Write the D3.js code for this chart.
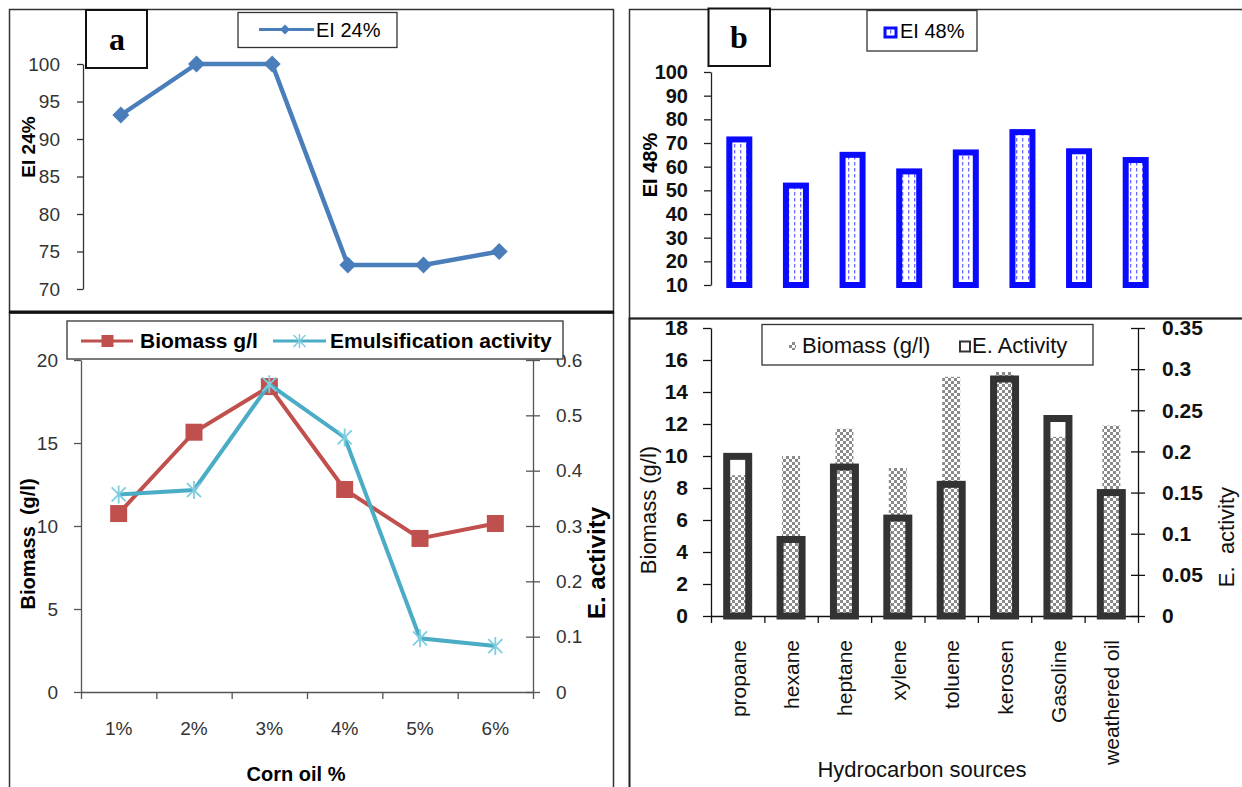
<!DOCTYPE html>
<html><head><meta charset="utf-8">
<script src="https://cdn.jsdelivr.net/npm/d3@7"></script>
<style>
html,body{margin:0;padding:0;background:#fff;}
svg{display:block;font-family:"Liberation Sans",Arial,sans-serif;}
</style></head><body>
<svg id="c" width="1242" height="787"></svg>
<script>
// ---------- data ----------
const cornCats = ["1%","2%","3%","4%","5%","6%"];
const ei24 = [93.2, 100, 100, 73.2, 73.2, 75];
const cornBiomass = [10.75, 15.65, 18.4, 12.2, 9.25, 10.15];
const cornActivity = [0.357, 0.365, 0.556, 0.46, 0.097, 0.083];

const hcCats = ["propane","hexane","heptane","xylene","toluene","kerosen","Gasoline","weathered oil"];
const ei48 = [71.5, 52, 65, 58, 66, 74.6, 66.5, 62.8];
const hcBiomass = [8.8, 10, 11.7, 9.25, 14.95, 15.25, 11.2, 11.9];
const hcActivity = [0.194, 0.093, 0.181, 0.119, 0.16, 0.288, 0.24, 0.15];

const ticksA = [70,75,80,85,90,95,100];
const ticksB = [10,20,30,40,50,60,70,80,90,100];
const ticksCL = [0,5,10,15,20];
const ticksCR = [0,0.1,0.2,0.3,0.4,0.5,0.6];
const ticksDL = [0,2,4,6,8,10,12,14,16,18];
const ticksDR = [0,0.05,0.1,0.15,0.2,0.25,0.3,0.35];

const svg = d3.select("#c");
const defs = svg.append("defs");
const chk = defs.append("pattern").attr("id","chk").attr("patternUnits","userSpaceOnUse").attr("width",6).attr("height",6);
chk.append("rect").attr("width",6).attr("height",6).attr("fill","#fff");
chk.append("rect").attr("width",3).attr("height",3).attr("fill","#8a8a8a");
chk.append("rect").attr("x",3).attr("y",3).attr("width",3).attr("height",3).attr("fill","#8a8a8a");
const dot = defs.append("pattern").attr("id","dot").attr("patternUnits","userSpaceOnUse").attr("width",6).attr("height",6);
dot.append("rect").attr("width",6).attr("height",6).attr("fill","#fff");
dot.append("rect").attr("x",2).attr("y",0).attr("width",1.3).attr("height",3.5).attr("fill","#6b6bff");

function styleAxis(g, color, size, weight, fill){
  g.selectAll("path,line").attr("stroke", color).attr("stroke-width",1.3);
  g.selectAll("text").attr("font-size", size).attr("font-weight", weight).attr("fill", fill)
   .attr("font-family","Liberation Sans, Arial, sans-serif");
}

// ---------- frames ----------
svg.append("rect").attr("x",9.5).attr("y",9.5).attr("width",604).attr("height",303).attr("fill","none").attr("stroke","#333").attr("stroke-width",1.5);
svg.append("rect").attr("x",9.5).attr("y",313).attr("width",604).attr("height",490).attr("fill","none").attr("stroke","#333").attr("stroke-width",1.5);
svg.append("line").attr("x1",9).attr("x2",614).attr("y1",312).attr("y2",312).attr("stroke","#111").attr("stroke-width",3);
svg.append("rect").attr("x",629.5).attr("y",9.5).attr("width",640).attr("height",309).attr("fill","none").attr("stroke","#333").attr("stroke-width",1.5);
svg.append("rect").attr("x",629.5).attr("y",318.5).attr("width",640).attr("height",490).attr("fill","none").attr("stroke","#222").attr("stroke-width",2);

// ---------- panel a ----------
const xA = d3.scaleBand().domain(cornCats).range([83,537]);
const yA = d3.scaleLinear().domain([70,100]).range([289,64]);
const gA = svg.append("g");
const axA = gA.append("g").attr("transform","translate(83,0)")
  .call(d3.axisLeft(yA).tickValues(ticksA).tickSize(6).tickSizeOuter(0).tickPadding(17));
styleAxis(axA,"#333",19,"normal","#333");
const cxA = c => xA(c) + xA.bandwidth()/2;
const ptsA = cornCats.map((c,i)=>({c, v:ei24[i]}));
gA.append("path").datum(ptsA).attr("fill","none").attr("stroke","#4a7ebb").attr("stroke-width",4.5)
  .attr("stroke-linejoin","round").attr("d", d3.line().x(d=>cxA(d.c)).y(d=>yA(d.v)));
const diamond = r => `M0,${-r}L${r},0L0,${r}L${-r},0Z`;
gA.selectAll(".dm").data(ptsA).join("path").attr("d",diamond(8.5)).attr("fill","#4a7ebb")
  .attr("transform",d=>`translate(${cxA(d.c)},${yA(d.v)})`);
gA.append("text").attr("transform","translate(35,147) rotate(-90)").attr("text-anchor","middle")
  .attr("font-size",19).attr("font-weight","bold").text("EI 24%");
// legend a
gA.append("rect").attr("x",238).attr("y",12.5).attr("width",159).attr("height",35).attr("fill","#fff").attr("stroke","#333").attr("stroke-width",1.3);
gA.append("line").attr("x1",259).attr("x2",314).attr("y1",29.5).attr("y2",29.5).attr("stroke","#4a7ebb").attr("stroke-width",3);
gA.append("path").attr("d",diamond(5)).attr("fill","#4a7ebb").attr("transform","translate(285,29.5)");
gA.append("text").attr("x",316).attr("y",36.5).attr("font-size",20).text("EI 24%");
// label a
gA.append("rect").attr("x",86).attr("y",10).attr("width",61).attr("height",58).attr("fill","#fff").attr("stroke","#111").attr("stroke-width",2);
gA.append("text").attr("x",117).attr("y",50).attr("text-anchor","middle").attr("font-family","Liberation Serif, Times New Roman, serif")
  .attr("font-weight","bold").attr("font-size",32).text("a");

// ---------- panel b ----------
const xB = d3.scaleBand().domain(hcCats).range([711,1164]);
const yB = d3.scaleLinear().domain([10,100]).range([285,72]);
const gB = svg.append("g");
const axB = gB.append("g").attr("transform","translate(711,0)")
  .call(d3.axisLeft(yB).tickValues(ticksB).tickSize(7).tickSizeOuter(0).tickPadding(16));
styleAxis(axB,"#222",20,"bold","#111");
gB.selectAll(".bb").data(hcCats.map((c,i)=>({c,v:ei48[i]}))).join("rect")
  .attr("x",d=>xB(d.c)+xB.bandwidth()/2-10).attr("width",20)
  .attr("y",d=>yB(d.v)).attr("height",d=>yB(10)-yB(d.v))
  .attr("fill","url(#dot)").attr("stroke","#0a0aff").attr("stroke-width",6);
gB.append("text").attr("transform","translate(657,165) rotate(-90)").attr("text-anchor","middle")
  .attr("font-size",20).attr("font-weight","bold").text("EI 48%");
gB.append("rect").attr("x",867).attr("y",10.5).attr("width",110).attr("height",40.5).attr("fill","#fff").attr("stroke","#333").attr("stroke-width",1.3);
gB.append("rect").attr("x",885).attr("y",28).attr("width",11).attr("height",9).attr("fill","url(#dot)").attr("stroke","#0a0aff").attr("stroke-width",3);
gB.append("text").attr("x",900).attr("y",38).attr("font-size",20).text("EI 48%");
gB.append("rect").attr("x",708.5).attr("y",8.5).attr("width",61.5).attr("height",57.5).attr("fill","#fff").attr("stroke","#111").attr("stroke-width",2);
gB.append("text").attr("x",739).attr("y",48).attr("text-anchor","middle").attr("font-family","Liberation Serif, Times New Roman, serif")
  .attr("font-weight","bold").attr("font-size",32).text("b");

// ---------- panel c ----------
const xC = d3.scaleBand().domain(cornCats).range([81,533]);
const xCl = d3.scaleLinear().domain([0,6]).range([81,533]);
const yCL = d3.scaleLinear().domain([0,20]).range([692,360]);
const yCR = d3.scaleLinear().domain([0,0.6]).range([692,360]);
const gC = svg.append("g");
const axCL = gC.append("g").attr("transform","translate(81,0)")
  .call(d3.axisLeft(yCL).tickValues(ticksCL).tickSize(7).tickSizeOuter(0).tickPadding(16));
styleAxis(axCL,"#555",19,"normal","#333");
const axCR = gC.append("g").attr("transform","translate(533,0)")
  .call(d3.axisRight(yCR).tickValues(ticksCR).tickSize(7).tickSizeOuter(0).tickPadding(16)
  .tickFormat(d=> d===0 ? "0" : d3.format(".1f")(d)));
styleAxis(axCR,"#555",19,"normal","#333");
axCR.selectAll(".tick line").attr("x1",-7);
const axCB = gC.append("g").attr("transform","translate(0,692)")
  .call(d3.axisBottom(xCl).tickValues(d3.range(0,7)).tickSize(7).tickSizeOuter(0).tickFormat(""));
styleAxis(axCB,"#555",19,"normal","#333");
const axCBl = gC.append("g").attr("transform","translate(0,692)")
  .call(d3.axisBottom(xC).tickSize(0).tickPadding(29.5));
axCBl.select(".domain").remove();
styleAxis(axCBl,"#555",19,"normal","#333");
const cxC = c => xC(c) + xC.bandwidth()/2;
const ptsCB = cornCats.map((c,i)=>({c,v:cornBiomass[i]}));
const ptsCA = cornCats.map((c,i)=>({c,v:cornActivity[i]}));
gC.append("path").datum(ptsCB).attr("fill","none").attr("stroke","#c0504d").attr("stroke-width",4)
  .attr("d", d3.line().x(d=>cxC(d.c)).y(d=>yCL(d.v)));
gC.selectAll(".sq").data(ptsCB).join("rect").attr("fill","#c0504d")
  .attr("x",d=>cxC(d.c)-8.5).attr("y",d=>yCL(d.v)-8.5).attr("width",17).attr("height",17);
gC.append("path").datum(ptsCA).attr("fill","none").attr("stroke","#4bacc6").attr("stroke-width",4)
  .attr("d", d3.line().x(d=>cxC(d.c)).y(d=>yCR(d.v)));
const star = "M-7,-7L7,7M-7,7L7,-7M0,-9V9";
gC.selectAll(".st").data(ptsCA).join("path").attr("d",star).attr("fill","none")
  .attr("stroke","#7fcde0").attr("stroke-width",1.8)
  .attr("transform",d=>`translate(${cxC(d.c)},${yCR(d.v)})`);
gC.append("text").attr("x",296).attr("y",781).attr("text-anchor","middle").attr("font-size",20).attr("font-weight","bold").text("Corn oil %");
gC.append("text").attr("transform","translate(35,544) rotate(-90)").attr("text-anchor","middle")
  .attr("font-size",20).attr("font-weight","bold").attr("xml:space","preserve").text("Biomass  (g/l)");
gC.append("text").attr("transform","translate(605,563) rotate(-90)").attr("text-anchor","middle")
  .attr("font-size",24).attr("font-weight","bold").text("E. activity");
// legend c
gC.append("rect").attr("x",67).attr("y",321).attr("width",496).attr("height",38).attr("fill","#fff").attr("stroke","#333").attr("stroke-width",1.3);
gC.append("line").attr("x1",81).attr("x2",133).attr("y1",341).attr("y2",341).attr("stroke","#c0504d").attr("stroke-width",3);
gC.append("rect").attr("x",101.5).attr("y",335).attr("width",12).attr("height",12).attr("fill","#c0504d");
gC.append("text").attr("x",140).attr("y",348).attr("font-size",21).attr("font-weight","bold").text("Biomass g/l");
gC.append("line").attr("x1",273).attr("x2",326).attr("y1",341).attr("y2",341).attr("stroke","#4bacc6").attr("stroke-width",3);
gC.append("path").attr("d","M-6,-6L6,6M-6,6L6,-6M0,-7V7").attr("fill","none").attr("stroke","#7fcde0").attr("stroke-width",1.5).attr("transform","translate(299.5,341)");
gC.append("text").attr("x",330).attr("y",348).attr("font-size",21).attr("font-weight","bold").text("Emulsification activity");

// ---------- panel d ----------
const xD = d3.scaleBand().domain(hcCats).range([711,1138]);
const xDl = d3.scaleLinear().domain([0,8]).range([711,1138]);
const yDL = d3.scaleLinear().domain([0,18]).range([616,328]);
const yDR = d3.scaleLinear().domain([0,0.35]).range([616,328]);
const gD = svg.append("g");
const cxD = c => xD(c) + xD.bandwidth()/2;
gD.selectAll(".bm").data(hcCats.map((c,i)=>({c,v:hcBiomass[i]}))).join("rect")
  .attr("x",d=>cxD(d.c)-9).attr("width",18).attr("y",d=>yDL(d.v)).attr("height",d=>yDL(0)-yDL(d.v))
  .attr("fill","url(#chk)");
const axDL = gD.append("g").attr("transform","translate(711,0)")
  .call(d3.axisLeft(yDL).tickValues(ticksDL).tickSize(8).tickSizeOuter(0).tickPadding(15));
styleAxis(axDL,"#111",21,"bold","#111");
const axDR = gD.append("g").attr("transform","translate(1138,0)")
  .call(d3.axisRight(yDR).tickValues(ticksDR).tickSize(7).tickSizeOuter(0).tickPadding(17)
  .tickFormat(d=> String(+d.toFixed(2))));
styleAxis(axDR,"#111",21,"bold","#111");
axDR.selectAll(".tick line").attr("x1",-7);
const axDB = gD.append("g").attr("transform","translate(0,616)")
  .call(d3.axisBottom(xDl).tickValues(d3.range(0,9)).tickSize(7).tickSizeOuter(0).tickFormat(""));
styleAxis(axDB,"#111",19,"normal","#111");
gD.selectAll(".ea").data(hcCats.map((c,i)=>({c,v:hcActivity[i]}))).join("rect")
  .attr("x",d=>cxD(d.c)-11).attr("width",22).attr("y",d=>yDR(d.v)).attr("height",d=>yDR(0)-yDR(d.v))
  .attr("fill","none").attr("stroke","#333").attr("stroke-width",7);
gD.selectAll(".xl").data(hcCats).join("text")
  .attr("transform",d=>`translate(${cxD(d)+8},640) rotate(-90)`).attr("text-anchor","end")
  .attr("font-size",21).attr("fill","#111").text(d=>d);
gD.append("text").attr("x",922).attr("y",777).attr("text-anchor","middle").attr("font-size",22).attr("fill","#111").text("Hydrocarbon sources");
gD.append("text").attr("transform","translate(656,510) rotate(-90)").attr("text-anchor","middle")
  .attr("font-size",22).attr("fill","#111").text("Biomass (g/l)");
gD.append("text").attr("transform","translate(1234,537) rotate(-90)").attr("text-anchor","middle")
  .attr("font-size",22).attr("fill","#111").attr("xml:space","preserve").text("E.  activity");
// legend d
gD.append("rect").attr("x",762).attr("y",324.5).attr("width",331).attr("height",40.5).attr("fill","#fff").attr("stroke","#333").attr("stroke-width",1.3);
gD.append("rect").attr("x",789).attr("y",342).attr("width",7).attr("height",8).attr("fill","url(#chk)");
gD.append("text").attr("x",802).attr("y",353).attr("font-size",22).attr("fill","#111").text("Biomass (g/l)");
gD.append("rect").attr("x",960).attr("y",341.5).attr("width",10).attr("height",10).attr("fill","#fff").attr("stroke","#333").attr("stroke-width",2);
gD.append("text").attr("x",972).attr("y",353).attr("font-size",22).attr("fill","#111").text("E. Activity");
</script>
</body></html>
